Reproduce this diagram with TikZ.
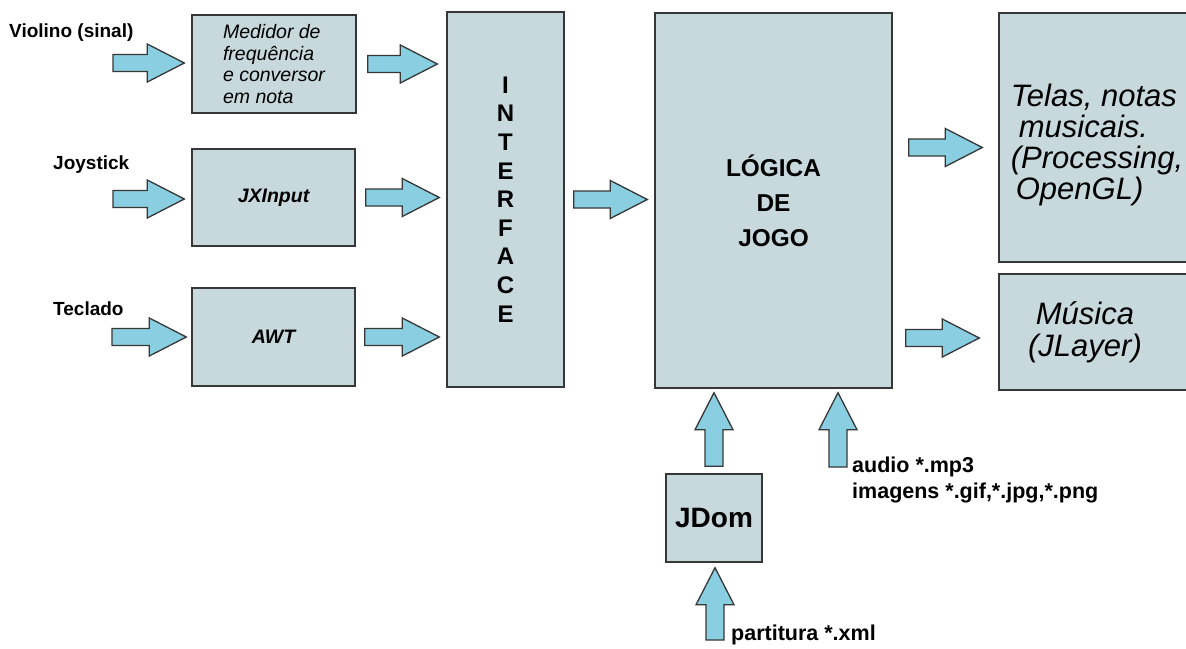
\documentclass[tikz,border=0pt]{standalone}
\usepackage{fontspec}
\setmainfont{Liberation Sans}
\usetikzlibrary{calc, positioning}

\definecolor{boxfill}{RGB}{200,217,221}
\definecolor{arrowfill}{RGB}{138,207,225}
\definecolor{edgegray}{RGB}{55,55,55}

\begin{document}
\begin{tikzpicture}[
    x=1pt, y=-1pt,
    block/.style={draw=edgegray, fill=boxfill, line width=1.4pt, inner sep=0pt, align=center},
    inlabel/.style={font=\fontsize{19}{22}\selectfont\bfseries, anchor=west, inner sep=0pt},
    filelabel/.style={font=\fontsize{21.5}{26}\selectfont\bfseries, anchor=west, align=left, inner sep=0pt},
    fatright/.style={draw=edgegray, fill=arrowfill, line width=1.3pt, line join=miter,
        to path={let \p1=(\tikztostart), \p2=(\tikztotarget) in
            (\x1,\y1+8.5pt) -- (\x2-37pt,\y1+8.5pt) -- (\x2-37pt,\y1+19pt) -- (\x2,\y1)
            -- (\x2-37pt,\y1-19pt) -- (\x2-37pt,\y1-8.5pt) -- (\x1,\y1-8.5pt) -- cycle}},
    fatup/.style={draw=edgegray, fill=arrowfill, line width=1.3pt, line join=miter,
        to path={let \p1=(\tikztostart), \p2=(\tikztotarget) in
            (\x1-9pt,\y1) -- (\x1-9pt,\y2-37pt) -- (\x1-19pt,\y2-37pt) -- (\x1,\y2)
            -- (\x1+19pt,\y2-37pt) -- (\x1+9pt,\y2-37pt) -- (\x1+9pt,\y1) -- cycle}}
]
\path[use as bounding box, clip] (0,0) rectangle (1186,648);

% Boxes
\node[block, minimum width=164pt, minimum height=98pt, align=left,
      font=\fontsize{19.5}{21.5}\selectfont\itshape] (medidor) at (274,64)
      {Medidor de\\frequência\\e conversor\\em nota};
\node[block, minimum width=163pt, minimum height=97pt,
      font=\fontsize{19.5}{21.5}\selectfont\bfseries\itshape] (jxinput) at (273.5,197.5) {JXInput};
\node[block, minimum width=163pt, minimum height=98pt,
      font=\fontsize{19.5}{21.5}\selectfont\bfseries\itshape] (awt) at (273.5,337) {AWT};
\node[block, minimum width=117pt, minimum height=375pt,
      font=\fontsize{24}{28.6}\selectfont\bfseries] (interface) at (505.5,199.5)
      {I\\N\\T\\E\\R\\F\\A\\C\\E};
\node[block, minimum width=237pt, minimum height=375pt,
      font=\fontsize{24.4}{35}\selectfont\bfseries] (logica) at (773.5,200.5)
      {LÓGICA\\DE\\JOGO};
\node[block, minimum width=196pt, minimum height=249pt] (telas) at (1097,137.5) {};
\node[font=\fontsize{31}{31}\selectfont\itshape, align=left] (telastext) at (1097,144.5)
      {Telas, notas\\\hspace*{8pt}musicais.\\(Processing,\\\hspace*{5pt}OpenGL)};
\node[block, minimum width=196pt, minimum height=116pt] (musica) at (1097,332) {};
\node[font=\fontsize{31}{32.5}\selectfont\itshape, align=center] (musicatext) at (1085,332.5)
      {Música\\(JLayer)};
\node[block, minimum width=96pt, minimum height=88pt,
      font=\fontsize{28}{30}\selectfont\bfseries] (jdom) at (714,518) {JDom};

% Labels
\node[inlabel] (violino) at (9,33) {Violino (sinal)};
\node[inlabel] (joystick) at (53,165) {Joystick};
\node[inlabel] (teclado) at (53,309) {Teclado};
\node[filelabel] (midialabel) at (852,480) {audio *.mp3\\imagens *.gif,*.jpg,*.png};
\node[filelabel] (partituralabel) at (731,635) {partitura *.xml};

% Free ends
\coordinate (violinoin) at (113,63);
\coordinate (joystickin) at (113,199);
\coordinate (tecladoin) at (112,337);
\coordinate (midiain) at (838,467);
\coordinate (partiturain) at (715,640);

% Arrows
\draw[fatright] (violinoin) to ([xshift=-7pt]medidor.west);
\draw[fatright] (joystickin) to ([xshift=-7pt]jxinput.west);
\draw[fatright] (tecladoin) to ([xshift=-5pt]awt.west);
\draw[fatright] ([xshift=11pt]medidor.east) to ([xshift=-9pt]interface.west);
\draw[fatright] ([xshift=10pt]jxinput.east) to ([xshift=-7pt]interface.west);
\draw[fatright] ([xshift=9pt]awt.east) to ([xshift=-7pt]interface.west);
\draw[fatright] ([xshift=9pt]interface.east) to ([xshift=-7pt]logica.west);
\draw[fatright] ([xshift=16pt,yshift=53pt]logica.east) to ([xshift=-16pt]telas.west);
\draw[fatright] ([xshift=13pt,yshift=-137.5pt]logica.east) to ([xshift=-19pt]musica.west);
\draw[fatup] ([yshift=7pt]jdom.north) to ([yshift=-4pt]logica.south);
\draw[fatup] (midiain) to ([yshift=-4pt]logica.south);
\draw[fatup] (partiturain) to ([yshift=-5pt]jdom.south);

\end{tikzpicture}
\end{document}
